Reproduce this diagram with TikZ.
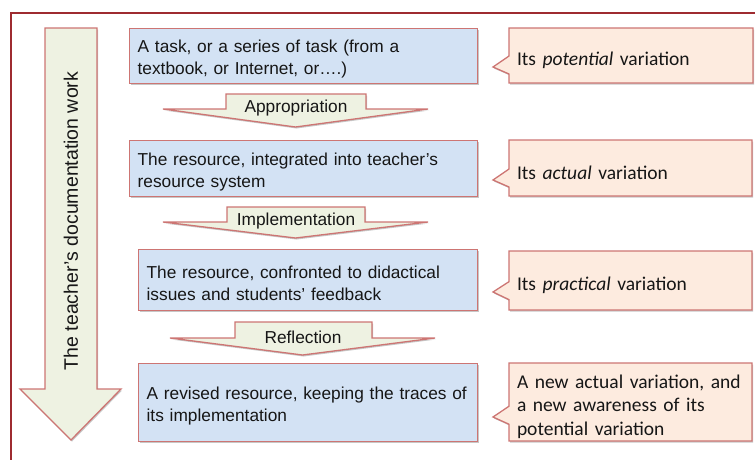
\documentclass[tikz,border=0pt]{standalone}
\usepackage{fontspec}
\newfontfamily\arialf{Liberation Sans}
\newfontfamily\calf{Carlito}
\usetikzlibrary{shapes.callouts,shadows}
\definecolor{framered}{HTML}{9E2B30}
\definecolor{edge}{HTML}{CD7573}
\definecolor{bluef}{HTML}{D3E2F4}
\definecolor{creamf}{HTML}{EEF2E2}
\definecolor{pinkf}{HTML}{FDEBDF}
\definecolor{txt}{HTML}{161616}
\begin{document}
\begin{tikzpicture}[x=1pt,y=-1pt,
  shad/.style={drop shadow={shadow xshift=1pt,shadow yshift=-1.5pt,opacity=0.22,fill=black}},
  bluebox/.style={draw=edge, line width=1.3pt, fill=bluef, shad, inner xsep=8pt, inner ysep=0pt,
    align=left, text=txt, anchor=north west, font=\arialf\fontsize{17.3}{22}\selectfont,
    execute at begin node={\rule{0pt}{18.6pt}}},
  callbox/.style={rectangle callout, draw=edge, line width=1.3pt, fill=pinkf, shad, inner xsep=8pt,
    inner ysep=0pt, callout pointer width=18pt, align=left, text=txt,
    font=\calf\fontsize{19.5}{23.5}\selectfont, execute at begin node={\rule{0pt}{22.9pt}}},
  blockarrow/.style={draw=edge, line width=1.3pt, fill=creamf, line join=miter, shad},
  arrowlab/.style={text=txt, font=\arialf\fontsize{17.3}{22}\selectfont, inner sep=0pt}
]
\useasboundingbox (0,0) rectangle (755,459);

% outer frame
\draw[framered, line width=2pt] (11,462) -- (11,13) -- (758,13);

% big left arrow
\draw[blockarrow] (45,28) -- (97,28) -- (97,389) -- (121,389) -- (71,440) -- (20,389) -- (45,389) -- cycle;
\node[rotate=90, text=txt, font=\arialf\fontsize{19.5}{22}\selectfont, inner sep=0pt] (vt) at (71,221)
  {The teacher’s documentation work};

% blue boxes
\node[bluebox, minimum width=348pt, minimum height=55pt, text width=332pt] (b1) at (129,28)
  {A task, or a series of task (from a\\textbook, or Internet, or….)};
\node[bluebox, minimum width=348pt, minimum height=56pt, text width=332pt] (b2) at (129,140)
  {The resource, integrated into teacher’s\\resource system};
\node[bluebox, minimum width=339pt, minimum height=61pt, text width=323pt] (b3) at (138,249)
  {The resource, confronted to didactical\\issues and students’ feedback};
\node[bluebox, minimum width=339pt, minimum height=78pt, text width=323pt] (b4) at (138,363)
  {A revised resource, keeping the traces of\\its implementation};

% block arrows between boxes
\draw[blockarrow] (226,94) -- (366,94) -- (366,109) -- (428,109) -- (295.5,127) -- (163,109) -- (226,109) -- cycle;
\node[arrowlab] (a1) at (296,108) {Appropriation};
\draw[blockarrow] (227,207) -- (365,207) -- (365,222) -- (428,222) -- (295.5,238) -- (163,222) -- (227,222) -- cycle;
\node[arrowlab] (a2) at (296,221) {Implementation};
\draw[blockarrow] (235,322) -- (372,322) -- (372,338) -- (435,338) -- (302.5,355) -- (170,338) -- (235,338) -- cycle;
\node[arrowlab] (a3) at (303,337) {Reflection};

% callouts
\node[callbox, minimum width=244pt, minimum height=55pt, text width=228pt,
  callout absolute pointer={(493,67)}] (c1) at (631,55.5) {Its \textit{potential} variation};
\node[callbox, minimum width=243pt, minimum height=56pt, text width=227pt,
  callout absolute pointer={(493,180)}] (c2) at (630.5,168) {Its \textit{actual} variation};
\node[callbox, minimum width=243pt, minimum height=59pt, text width=227pt,
  callout absolute pointer={(493,292)}] (c3) at (630.5,280.5) {Its \textit{practical} variation};
\node[callbox, minimum width=243pt, minimum height=78pt, text width=227pt,
  callout absolute pointer={(493,417)}] (c4) at (630.5,402)
  {A new actual variation, and\\a new awareness of its\\potential variation};
\end{tikzpicture}
\end{document}
